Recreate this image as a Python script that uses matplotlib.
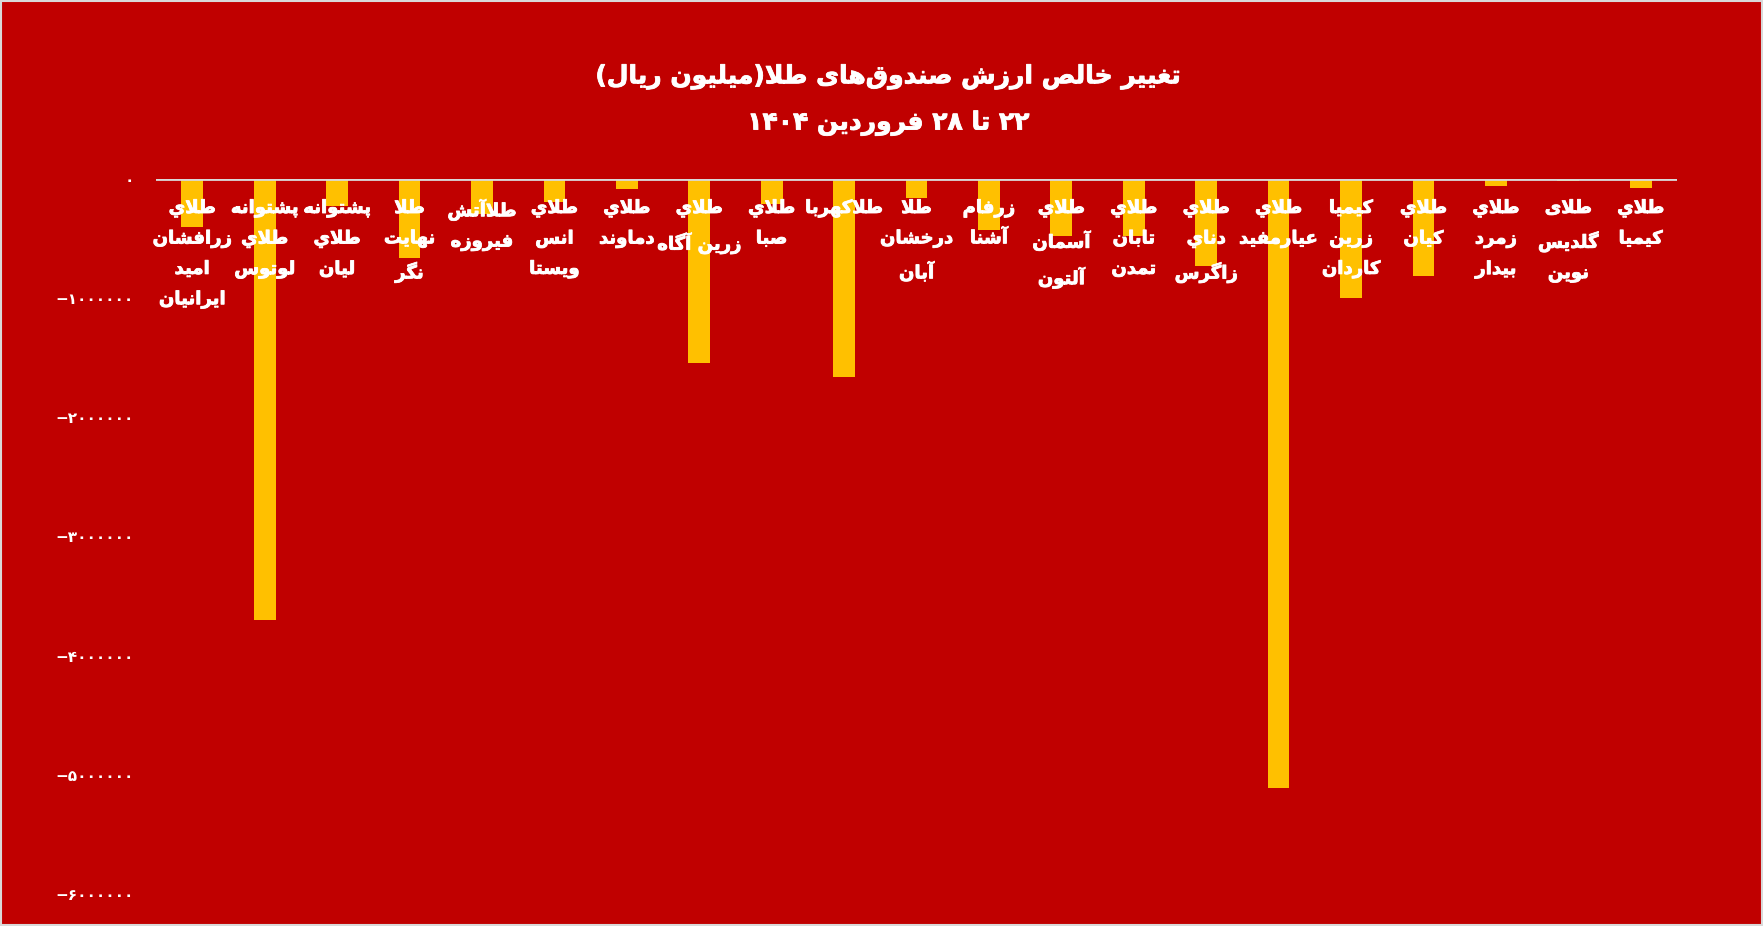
##
## === DEPENDENCIES
##

import re

import matplotlib
matplotlib.use("Agg")
import matplotlib.pyplot as plt
import matplotlib.transforms as mtransforms
import matplotlib.patheffects as pe
from matplotlib.patches import Rectangle
import numpy

##
## === DATA
##

TITLE_LINES = [
    "تغییر خالص ارزش صندوق\u200cهای طلا(میلیون ریال)",
    "۲۲ تا ۲۸ فروردین ۱۴۰۴",
]
FUND_LABELS = [
    "طلاي\nزرافشان\nامید\nایرانیان",
    "پشتوانه\nطلاي\nلوتوس",
    "پشتوانه\nطلاي\nلیان",
    "طلا\nنهایت\nنگر",
    "طلاآتش\nفیروزه",
    "طلاي\nانس\nویستا",
    "طلاي\nدماوند",
    "طلاي\nزرین آگاه",
    "طلاي\nصبا",
    "طلاکهربا",
    "طلا\nدرخشان\nآبان",
    "زرفام\nآشنا",
    "طلاي\nآسمان\nآلتون",
    "طلاي\nتابان\nتمدن",
    "طلاي\nدناي\nزاگرس",
    "طلاي\nعیارمفید",
    "کیمیا\nزرین\nکاردان",
    "طلاي\nکیان",
    "طلاي\nزمرد\nبیدار",
    "طلای\nگلدیس\nنوین",
    "طلاي\nکیمیا",
]
NET_CHANGE = [
    -400000, -3700000, -230000, -660000, -290000, -190000, -85000,
    -1540000, -210000, -1660000, -160000, -430000, -480000, -480000,
    -730000, -5110000, -1000000, -810000, -56000, -14000, -73000,
]
Y_TICKS = [0, -1000000, -2000000, -3000000, -4000000, -5000000, -6000000]

BG = "#c00000"
BAR = "#ffc000"

##
## === ARABIC SHAPING
##

## letter: (isolated, final, initial, medial); two entries = right-joining only
FORMS = {
    "ا": (0xFE8D, 0xFE8E), "آ": (0xFE81, 0xFE82),
    "د": (0xFEA9, 0xFEAA), "ذ": (0xFEAB, 0xFEAC),
    "ر": (0xFEAD, 0xFEAE), "ز": (0xFEAF, 0xFEB0),
    "ژ": (0xFB8A, 0xFB8B), "و": (0xFEED, 0xFEEE),
    "ب": (0xFE8F, 0xFE90, 0xFE91, 0xFE92), "پ": (0xFB56, 0xFB57, 0xFB58, 0xFB59),
    "ت": (0xFE95, 0xFE96, 0xFE97, 0xFE98), "ث": (0xFE99, 0xFE9A, 0xFE9B, 0xFE9C),
    "ج": (0xFE9D, 0xFE9E, 0xFE9F, 0xFEA0), "چ": (0xFB7A, 0xFB7B, 0xFB7C, 0xFB7D),
    "ح": (0xFEA1, 0xFEA2, 0xFEA3, 0xFEA4), "خ": (0xFEA5, 0xFEA6, 0xFEA7, 0xFEA8),
    "س": (0xFEB1, 0xFEB2, 0xFEB3, 0xFEB4), "ش": (0xFEB5, 0xFEB6, 0xFEB7, 0xFEB8),
    "ص": (0xFEB9, 0xFEBA, 0xFEBB, 0xFEBC), "ض": (0xFEBD, 0xFEBE, 0xFEBF, 0xFEC0),
    "ط": (0xFEC1, 0xFEC2, 0xFEC3, 0xFEC4), "ظ": (0xFEC5, 0xFEC6, 0xFEC7, 0xFEC8),
    "ع": (0xFEC9, 0xFECA, 0xFECB, 0xFECC), "غ": (0xFECD, 0xFECE, 0xFECF, 0xFED0),
    "ف": (0xFED1, 0xFED2, 0xFED3, 0xFED4), "ق": (0xFED5, 0xFED6, 0xFED7, 0xFED8),
    "ک": (0xFB8E, 0xFB8F, 0xFB90, 0xFB91), "گ": (0xFB92, 0xFB93, 0xFB94, 0xFB95),
    "ل": (0xFEDD, 0xFEDE, 0xFEDF, 0xFEE0), "م": (0xFEE1, 0xFEE2, 0xFEE3, 0xFEE4),
    "ن": (0xFEE5, 0xFEE6, 0xFEE7, 0xFEE8), "ه": (0xFEE9, 0xFEEA, 0xFEEB, 0xFEEC),
    "ي": (0xFEF1, 0xFEF2, 0xFEF3, 0xFEF4), "ی": (0xFBFC, 0xFBFD, 0xFBFE, 0xFBFF),
}
LAM_ALEF = {"ا": (0xFEFB, 0xFEFC), "آ": (0xFEF5, 0xFEF6)}


def shape_line(text: str) -> str:
    out = []
    chars = list(text)
    i = 0
    prev_joins = False
    while i < len(chars):
        c = chars[i]
        if c not in FORMS:
            out.append("" if c == "\u200c" else c)
            prev_joins = False
            i += 1
            continue
        nxt = chars[i + 1] if i + 1 < len(chars) else ""
        if c == "ل" and nxt in LAM_ALEF:
            iso, fin = LAM_ALEF[nxt]
            out.append(chr(fin if prev_joins else iso))
            prev_joins = False
            i += 2
            continue
        forms = FORMS[c]
        dual = len(forms) == 4
        next_joins = nxt in FORMS
        if dual and prev_joins and next_joins:
            cp = forms[3]
        elif prev_joins:
            cp = forms[1]
        elif dual and next_joins:
            cp = forms[2]
        else:
            cp = forms[0]
        out.append(chr(cp))
        prev_joins = dual
        i += 1
    visual = "".join(out)[::-1]
    visual = visual.translate(str.maketrans("()", ")("))
    return re.sub(r"[0-9\u06f0-\u06f9]+", lambda m: m.group(0)[::-1], visual)


def rtl(text: str) -> str:
    return "\n".join(shape_line(line) for line in text.split("\n"))


def fa_digits(n: int) -> str:
    s = str(abs(n)).translate(str.maketrans("0123456789", "۰۱۲۳۴۵۶۷۸۹"))
    return ("\u2212" + s) if n < 0 else s


##
## === MAIN
##


def main() -> None:
    plt.rcParams["font.family"] = ["DejaVu Sans"]
    fig = plt.figure(figsize=(17.63, 9.26), dpi=100, facecolor=BG)
    ax = fig.add_axes([0.0885, 0.0346, 0.8627, 0.7721])
    ax.set_facecolor(BG)
    x = numpy.arange(len(NET_CHANGE))
    ax.bar(x, NET_CHANGE, width=0.3, color=BAR, zorder=2)
    ax.axhline(0, color="#d9d9d9", lw=2, zorder=3)
    ax.set_xlim(-0.5, len(NET_CHANGE) - 0.5)
    ax.set_ylim(-6000000, 0)
    ax.set_yticks(Y_TICKS)
    ax.set_yticklabels([fa_digits(v) for v in Y_TICKS])
    ax.tick_params(axis="y", length=0, pad=16, labelcolor="white", labelsize=11)
    ax.set_xticks([])
    for s in ax.spines.values():
        s.set_visible(False)
    for lbl in ax.get_yticklabels():
        lbl.set_fontweight("bold")

    thick = [pe.withStroke(linewidth=0.6, foreground="white")]
    trans = mtransforms.blended_transform_factory(ax.transData, ax.transAxes)
    for i, label in enumerate(FUND_LABELS):
        ax.text(
            i, 0.972, rtl(label), transform=trans,
            ha="center", va="top", multialignment="center",
            color="white", fontsize=13, fontweight="bold",
            linespacing=1.88, zorder=4, path_effects=thick,
        )

    fig.text(0.504, 0.917, rtl(TITLE_LINES[0]), ha="center", va="center",
             color="white", fontsize=18, fontweight="bold", path_effects=thick)
    fig.text(0.504, 0.867, rtl(TITLE_LINES[1]), ha="center", va="center",
             color="white", fontsize=18, fontweight="bold", path_effects=thick)

    fig.patches.append(Rectangle((0.0005, 0.001), 0.999, 0.998, transform=fig.transFigure,
                                 fill=False, edgecolor="#d9d9d9", lw=1.5))
    fig.savefig("out.png", dpi=100, facecolor=BG)


if __name__ == "__main__":
    main()
